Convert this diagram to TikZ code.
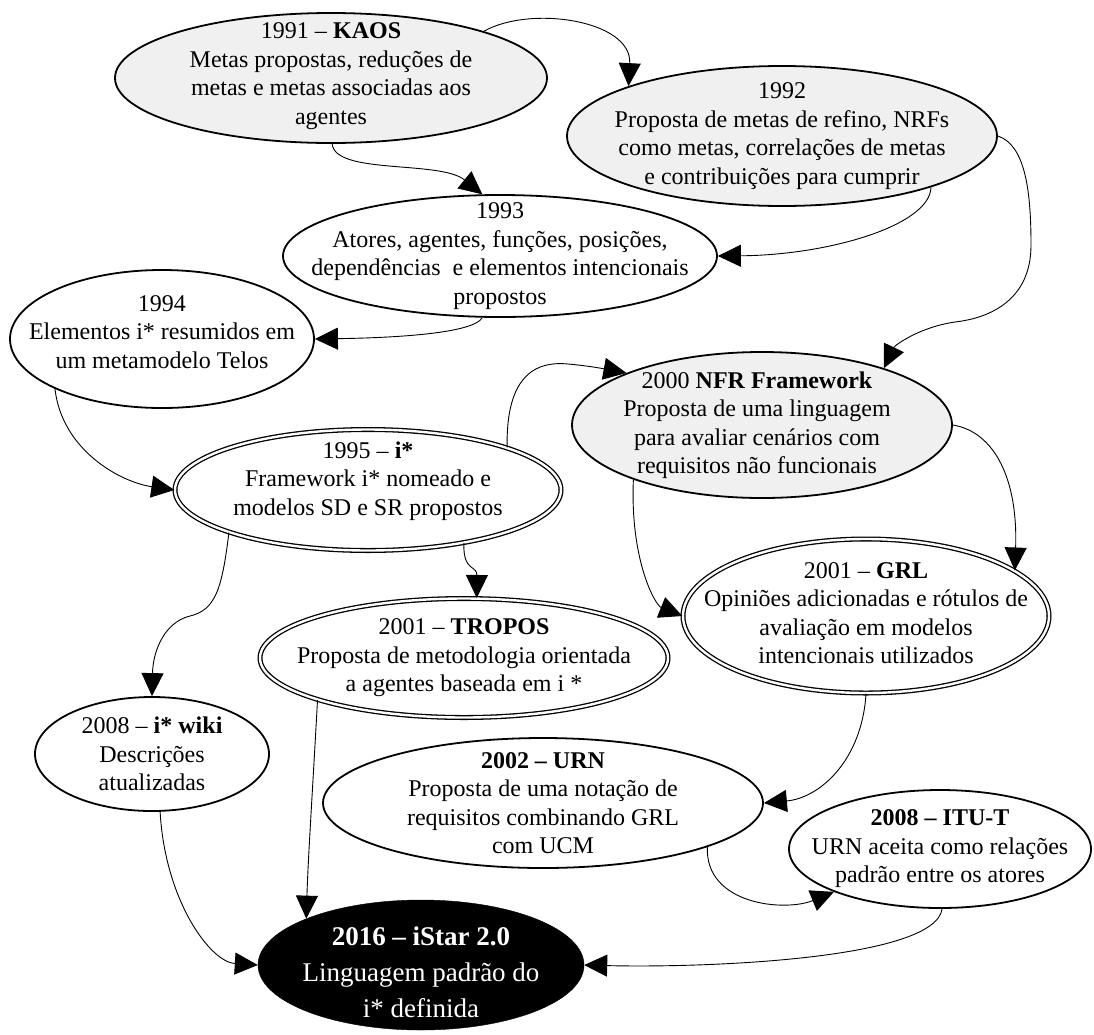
\documentclass[tikz,border=0pt]{standalone}
\usepackage{fontspec}
\setmainfont{Liberation Serif}
\usetikzlibrary{shapes.geometric, arrows.meta}
\definecolor{shade}{HTML}{F0F0F0}

\begin{document}
\begin{tikzpicture}[x=1pt, y=-1pt,
  evt/.style={ellipse, draw, line width=1.8pt, inner sep=0pt},
  past/.style={evt, fill=shade},
  plain/.style={evt, fill=white},
  dbl/.style={ellipse, draw, fill=white, double=white, double distance=2.4pt, line width=1.3pt, inner sep=0pt},
  final/.style={ellipse, draw=black, fill=black, inner sep=0pt},
  txt/.style={align=center, inner sep=0pt, font=\fontsize{24}{28.5}\selectfont},
  bigtxt/.style={align=center, inner sep=0pt, text=white, font=\fontsize{27}{36}\selectfont},
  link/.style={line width=0.9pt, -{Triangle[length=23pt, width=22pt]}},
]
\useasboundingbox (0,0) rectangle (1094,1034);

% ---- milestones ----
\node[past,  minimum width=432pt, minimum height=130pt] (kaos)    at (331,78)  {};
\node[past,  minimum width=430pt, minimum height=140pt] (nrf92)   at (782,136) {};
\node[plain, minimum width=434pt, minimum height=122pt] (act93)   at (500,256) {};
\node[plain, minimum width=304pt, minimum height=138pt] (telos94) at (162,339) {};
\node[dbl,   minimum width=386pt, minimum height=121pt] (istar95) at (368,490) {};
\node[past,  minimum width=380pt, minimum height=146pt] (nfr)     at (762,425) {};
\node[dbl,   minimum width=408pt, minimum height=119pt] (tropos)  at (464,658) {};
\node[dbl,   minimum width=366pt, minimum height=154pt] (grl)     at (866,616) {};
\node[plain, minimum width=234pt, minimum height=114pt] (wiki)    at (152,754) {};
\node[plain, minimum width=440pt, minimum height=130pt] (urn)     at (543,803) {};
\node[plain, minimum width=302pt, minimum height=118pt] (itut)    at (940,849) {};
\node[final, minimum width=326pt, minimum height=130pt] (istar2)  at (421,965) {};

% ---- texts ----
\node[txt] (kaos-t) at ([yshift=2pt]kaos.center) {1991 – \textbf{KAOS}\\Metas propostas, reduções de\\metas e metas associadas aos\\agentes};
\node[txt] (nrf92-t) at (nrf92) {1992\\Proposta de metas de refino, NRFs\\como metas, correlações de metas\\e contribuições para cumprir};
\node[txt] (act93-t) at (act93) {1993\\Atores, agentes, funções, posições,\\dependências\ \ e elementos intencionais\\propostos};
\node[txt] (telos94-t) at ([yshift=7pt]telos94.center) {1994\\Elementos i* resumidos em\\um metamodelo Telos};
\node[txt] (istar95-t) at ([yshift=9pt]istar95.center) {1995 – \textbf{i*}\\Framework i* nomeado e\\modelos SD e SR propostos};
\node[txt] (nfr-t) at ([xshift=-5pt]nfr.center) {2000 \textbf{NFR Framework}\\Proposta de uma linguagem\\para avaliar cenários com\\requisitos não funcionais};
\node[txt] (tropos-t) at (tropos) {2001 – \textbf{TROPOS}\\Proposta de metodologia orientada\\a agentes baseada em i *};
\node[txt] (grl-t) at ([yshift=3pt]grl.center) {2001 – \textbf{GRL}\\Opiniões adicionadas e rótulos de\\avaliação em modelos\\intencionais utilizados};
\node[txt] (wiki-t) at (wiki) {2008 – \textbf{i* wiki}\\Descrições\\atualizadas};
\node[txt] (urn-t) at (urn) {\textbf{2002 – URN}\\Proposta de uma notação de\\requisitos combinando GRL\\com UCM};
\node[txt] (itut-t) at (itut) {\textbf{2008 – ITU-T}\\URN aceita como relações\\padrão entre os atores};
\node[bigtxt] (istar2-t) at ([yshift=-7pt]istar2.center) {\textbf{2016 – iStar 2.0}\\Linguagem padrão do\\i* definida};

% ---- influences ----
\draw[link] (kaos.17) .. controls (530,5) and (632,20) .. (nrf92.162);
\draw[link] (kaos.-89) .. controls (335,175) and (440,160) .. (act93.106);
\draw[link] (nrf92.-19) .. controls (930,225) and (830,255) .. (act93.east);
\draw[link] (nrf92.east) .. controls (1025,145) and (1031,190) .. (1031,245)
                          .. controls (1031,300) and (990,318) .. (955,322)
                          .. controls (920,327) and (895,345) .. (nfr.25);
\draw[link] (act93.254) .. controls (472,335) and (380,338) .. (telos94.east);
\draw[link] (telos94.205) .. controls (62,450) and (120,482) .. (istar95.west);
\draw[link] (istar95.17) .. controls (506,385) and (528,360) .. (568,364)
                         .. controls (590,366) and (605,369) .. (nfr.159);
\draw[link] (nfr.east) .. controls (995,432) and (1018,480) .. (grl.17);
\draw[link] (nfr.203) .. controls (630,560) and (655,605) .. (grl.west);
\draw[link] (istar95.-29) .. controls (463,572) and (477,565) .. (tropos.78);
\draw[link] (istar95.197) .. controls (222,590) and (215,610) .. (190,616)
                          .. controls (165,622) and (153,650) .. (wiki.north);
\draw[link] (tropos.196) .. controls (312,800) and (308,860) .. (istar2.158);
\draw[link] (wiki.-82) .. controls (165,900) and (210,962) .. (istar2.west);
\draw[link] (grl.south) .. controls (862,760) and (820,798) .. (urn.east);
\draw[link] (urn.-15) .. controls (705,905) and (785,912) .. (itut.202);
\draw[link] (itut.-88) .. controls (935,960) and (700,968) .. (istar2.east);
\end{tikzpicture}
\end{document}
